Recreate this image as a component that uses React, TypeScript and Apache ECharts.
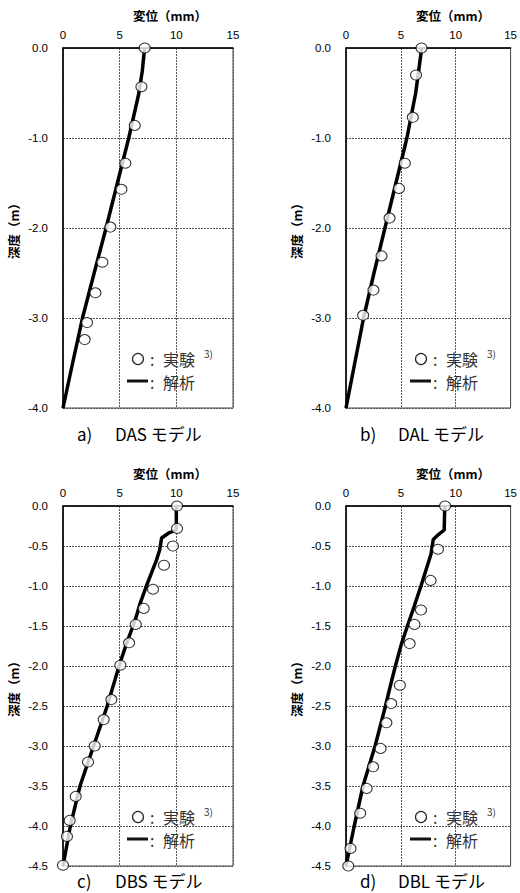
import React, { useEffect, useRef } from "react";
import * as echarts from "echarts";

// a) DAS
const aExpDepth = [0, -0.43, -0.86, -1.28, -1.57, -1.99, -2.38, -2.72, -3.05, -3.24];
const aExpDisp = [7.21, 6.92, 6.33, 5.5, 5.15, 4.18, 3.47, 2.86, 2.12, 1.91];
const aAnaDepth = [0, -0.25, -0.5, -1.0, -1.5, -2.0, -2.5, -3.0, -3.5, -4.0];
const aAnaDisp = [7.2, 7.0, 6.7, 5.8, 4.8, 3.8, 2.75, 1.72, 0.85, 0.0];

// b) DAL
const bExpDepth = [0, -0.3, -0.77, -1.28, -1.56, -1.89, -2.31, -2.69, -2.97];
const bExpDisp = [6.88, 6.38, 6.09, 5.36, 4.83, 3.97, 3.24, 2.5, 1.56];
const bAnaDepth = [0, -0.5, -1.0, -1.5, -2.0, -2.5, -3.0, -3.5, -4.0];
const bAnaDisp = [6.9, 6.35, 5.55, 4.55, 3.55, 2.55, 1.6, 0.8, 0];

// c) DBS
const cExpDepth = [0, -0.28, -0.5, -0.74, -1.04, -1.28, -1.48, -1.71, -1.99, -2.42, -2.67, -3.0, -3.2, -3.63, -3.93, -4.13, -4.49];
const cExpDisp = [10.06, 10.06, 9.7, 8.91, 7.94, 7.12, 6.42, 5.83, 5.06, 4.27, 3.59, 2.8, 2.21, 1.12, 0.59, 0.35, 0];
const cAnaDepth = [0, -0.3, -0.34, -0.4, -0.55, -0.68, -0.84, -1.0, -1.22, -1.38, -1.5, -1.72, -2.0, -2.5, -3.0, -3.5, -4.0, -4.5];
const cAnaDisp = [10.0, 10.0, 9.3, 8.7, 8.53, 8.24, 7.8, 7.36, 6.8, 6.47, 6.18, 5.6, 4.95, 3.9, 2.7, 1.5, 0.65, 0];

// d) DBL
const dExpDepth = [0, -0.54, -0.93, -1.3, -1.48, -1.72, -2.24, -2.47, -2.71, -3.03, -3.26, -3.53, -3.84, -4.28, -4.5];
const dExpDisp = [9.03, 8.38, 7.71, 6.83, 6.24, 5.8, 4.91, 4.12, 3.68, 3.15, 2.47, 1.88, 1.29, 0.41, 0.21];
const dAnaDepth = [0, -0.3, -0.36, -0.42, -0.6, -1.0, -1.26, -1.5, -1.72, -2.0, -2.3, -2.5, -3.0, -3.5, -4.0, -4.5];
const dAnaDisp = [9.0, 8.95, 8.4, 7.95, 7.75, 6.83, 6.2, 5.6, 5.06, 4.5, 3.95, 3.6, 2.65, 1.55, 0.75, 0];

const xTitle = "変位（mm）";
const yTitle = "深度（m）";
const legendExp = "実験";
const legendExpRef = "3)";
const legendAna = "解析";
const captionLetters = ["a)", "b)", "c)", "d)"];
const captionNames = ["DAS モデル", "DAL モデル", "DBS モデル", "DBL モデル"];

const zip = (xs: number[], ys: number[]) => xs.map((x, i) => [x, ys[i]]);

const panels = [
  { left: 63, top: 48, yMin: -4, yInt: 1, exp: zip(aExpDisp, aExpDepth), ana: zip(aAnaDisp, aAnaDepth), capGap: 25 },
  { left: 346, top: 48, yMin: -4, yInt: 1, exp: zip(bExpDisp, bExpDepth), ana: zip(bAnaDisp, bAnaDepth), capGap: 25 },
  { left: 63, top: 506, yMin: -4.5, yInt: 0.5, exp: zip(cExpDisp, cExpDepth), ana: zip(cAnaDisp, cAnaDepth), capGap: 14 },
  { left: 346, top: 506, yMin: -4.5, yInt: 0.5, exp: zip(dExpDisp, dExpDepth), ana: zip(dAnaDisp, dAnaDepth), capGap: 14 },
];

const W = 170;
const H = 360;
const LABEL_FONT = "Liberation Sans, Arial, sans-serif";
const JP_FONT = "Noto Sans CJK JP, sans-serif";

export default function App() {
  const ref = useRef<HTMLDivElement>(null);
  useEffect(() => {
    if (!ref.current) return;
    const chart = echarts.init(ref.current, undefined, { renderer: "svg" });
    const graphics: any[] = [];
    panels.forEach((p, i) => {
      const L = p.left;
      const T = p.top;
      const B = p.top + H;
      const ts = { fontSize: 16, lineHeight: 17, fill: "#333", fontFamily: JP_FONT, verticalAlign: "middle" };
      graphics.push(
        { type: "text", x: L + 70, y: T - 33, style: { fontSize: 12.5, fontWeight: "bold", fill: "#000", fontFamily: JP_FONT, verticalAlign: "middle", text: xTitle }, z: 10 },
        { type: "text", x: L - 50, y: T + H / 2, rotation: Math.PI / 2, style: { fontSize: 12.5, fontWeight: "bold", fill: "#000", fontFamily: JP_FONT, align: "center", verticalAlign: "middle", text: yTitle }, z: 10 },
        { type: "circle", shape: { cx: L + 75, cy: B - 49, r: 5.5 }, style: { fill: "#fff", stroke: "#222", lineWidth: 1.2 }, z: 10 },
        { type: "text", x: L + 87, y: B - 49, style: { ...ts, text: ":" }, z: 10 },
        { type: "text", x: L + 100, y: B - 49, style: { ...ts, text: legendExp }, z: 10 },
        { type: "text", x: L + 141, y: B - 55, style: { ...ts, fontSize: 10, lineHeight: 10, text: legendExpRef }, z: 10 },
        { type: "line", shape: { x1: L + 64, y1: B - 27, x2: L + 85, y2: B - 27 }, style: { stroke: "#111", lineWidth: 3 }, z: 10 },
        { type: "text", x: L + 87, y: B - 26, style: { ...ts, text: ":" }, z: 10 },
        { type: "text", x: L + 100, y: B - 26, style: { ...ts, text: legendAna }, z: 10 },
        { type: "text", x: L + 14, y: B + p.capGap, style: { fontSize: 17, fill: "#000", fontFamily: JP_FONT, verticalAlign: "middle", text: captionLetters[i] }, z: 10 },
        { type: "text", x: L + 52, y: B + p.capGap, style: { fontSize: 17, fill: "#000", fontFamily: JP_FONT, verticalAlign: "middle", text: captionNames[i] }, z: 10 }
      );
    });

    const option: any = {
      animation: false,
      backgroundColor: "#fff",
      grid: panels.map((p) => ({
        left: p.left,
        top: p.top,
        width: W,
        height: H,
        show: true,
        borderColor: "#444",
        borderWidth: 1,
        backgroundColor: "transparent",
      })),
      xAxis: panels.map((p, i) => ({
        gridIndex: i,
        type: "value",
        position: "top",
        min: 0,
        max: 15,
        interval: 5,
        axisLine: { show: true, lineStyle: { color: "#000", width: 1.5 } },
        axisTick: { show: false },
        axisLabel: { fontSize: 11.5, color: "#000", margin: 7, fontFamily: LABEL_FONT },
        splitLine: { show: true, lineStyle: { color: "#555", type: [2, 1], width: 1 } },
      })),
      yAxis: panels.map((p, i) => ({
        gridIndex: i,
        type: "value",
        min: p.yMin,
        max: 0,
        interval: p.yInt,
        axisLine: { show: true, lineStyle: { color: "#000", width: 1.5 } },
        axisTick: { show: false },
        axisLabel: { fontSize: 11.5, color: "#000", margin: 15, fontFamily: LABEL_FONT, formatter: (v: number) => v.toFixed(1) },
        splitLine: { show: true, lineStyle: { color: "#555", type: [2, 1], width: 1 } },
      })),
      series: panels.flatMap((p, i) => [
        {
          type: "line",
          xAxisIndex: i,
          yAxisIndex: i,
          data: p.ana,
          showSymbol: false,
          symbol: "none",
          lineStyle: { color: "#000", width: 3.5 },
          z: 2,
        },
        {
          type: "scatter",
          xAxisIndex: i,
          yAxisIndex: i,
          data: p.exp,
          symbol: "circle",
          symbolSize: [11, 10],
          itemStyle: { color: "#fff", borderColor: "#000", borderWidth: 1 },
          z: 3,
        },
      ]),
      graphic: graphics,
    };
    chart.setOption(option);
    return () => chart.dispose();
  }, []);
  return <div ref={ref} style={{ position: "absolute", left: 0, top: 0, width: 520, height: 893 }} />;
}
